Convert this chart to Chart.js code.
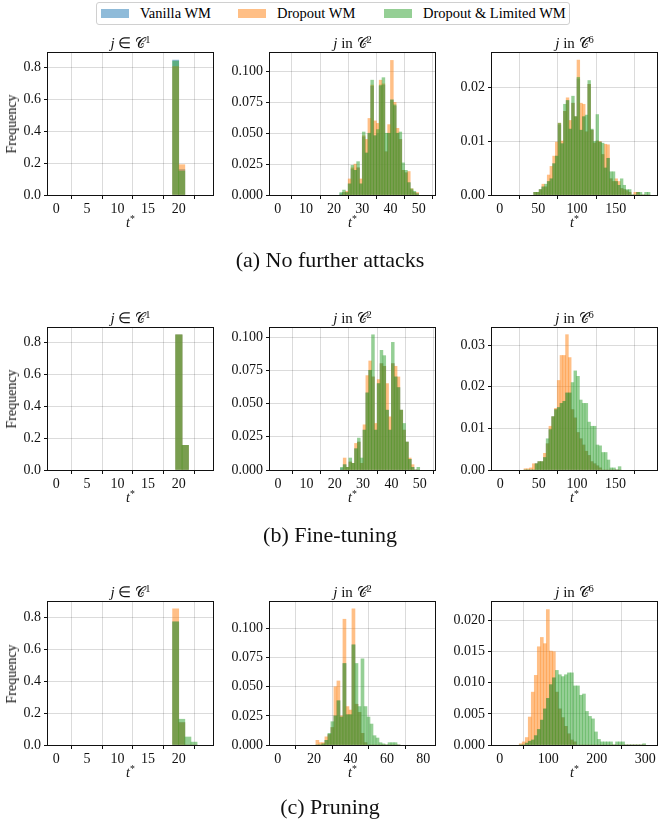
<!DOCTYPE html>
<html lang="en">
<head>
<meta charset="UTF-8">
<title>t* histograms</title>
<script src="https://cdn.jsdelivr.net/npm/chart.js"></script>
<style>
  body { margin: 0; background: #fff; color: #000; font-family: "Liberation Serif", serif; }
  #page { position: relative; width: 659px; height: 825px; overflow: hidden; }
  canvas.panel { position: absolute; }
  .txt { position: absolute; white-space: nowrap; transform: translate(-50%, -50%); line-height: 1; color: #111; font-weight: normal; }
  .title { font-size: 15px; }
  .xlabel { font-size: 14px; }
  .ylabel { font-size: 14px; transform: translate(-50%, -50%) rotate(-90deg); }
  .caption { font-size: 22px; }
  .cal { font-family: "DejaVu Serif", "DejaVu Sans", serif; font-size: 0.95em; }
  sup { font-size: 0.7em; position: relative; top: -0.5em; vertical-align: baseline; line-height: 0; }
  #legend {
    position: absolute; left: 96px; top: 2px; width: 474px; height: 23px;
    border: 1px solid #d0d0d0; border-radius: 3px; box-sizing: border-box;
    font-size: 14.5px;
  }
  #legend .item { position: absolute; top: 0; height: 21px; display: flex; align-items: center; white-space: nowrap; }
  #legend .swatch { width: 28px; height: 9px; margin-right: 11px; }
</style>
</head>
<body>
<div id="page">
  <div id="legend"></div>
</div>
<script>
  const legendLabels = ['Vanilla WM', 'Dropout WM', 'Dropout & Limited WM'];
  const rowCaptions = ['(a) No further attacks', '(b) Fine-tuning', '(c) Pruning'];
  const classIds = [1, 2, 6];

  // tick values
  const xTicksC1 = [0, 5, 10, 15, 20];
  const xTicksC2 = [0, 10, 20, 30, 40, 50];
  const xTicksC6 = [0, 50, 100, 150];
  const xTicksC2Pruned = [0, 20, 40, 60, 80];
  const xTicksC6Pruned = [0, 100, 200, 300];
  const yTicksC1 = [0, 0.2, 0.4, 0.6, 0.8];
  const yTicksC2 = [0, 0.025, 0.05, 0.075, 0.1];
  const yTicksC6a = [0, 0.01, 0.02];
  const yTicksC6b = [0, 0.01, 0.02, 0.03];
  const yTicksC6c = [0, 0.005, 0.01, 0.015, 0.02];

  // (a) no further attacks -- bins given as [first left edge, bin width]
  const aC1Bins = [19, 1];
  const aC1Vanilla = [0.845, 0.16];
  const aC1Dropout = [0.805, 0.19];
  const aC1Limited = [0.84, 0.15];

  const aC2Bins = [22, 1];
  const aC2Vanilla = [0.001, 0.002, 0.002, 0.009, 0.021, 0.02, 0.022, 0.009, 0.047, 0.034, 0.05, 0.088, 0.048, 0.05,
    0.088, 0.089, 0.035, 0.05, 0.077, 0.072, 0.05, 0.045, 0.02, 0.018, 0.01, 0.004, 0.002, 0.001];
  const aC2Dropout = [0, 0.002, 0.003, 0.013, 0.022, 0.025, 0.022, 0.013, 0.048, 0.045, 0.062, 0.089, 0.06, 0.058,
    0.093, 0.09, 0.035, 0.057, 0.109, 0.075, 0.054, 0.045, 0.02, 0.018, 0.019, 0.005, 0.002, 0.002];
  const aC2Limited = [0.002, 0.004, 0.002, 0.009, 0.024, 0.02, 0.027, 0.009, 0.051, 0.034, 0.05, 0.093, 0.048, 0.053,
    0.089, 0.095, 0.05, 0.05, 0.077, 0.073, 0.05, 0.051, 0.026, 0.02, 0.01, 0.005, 0.003, 0.001];

  const aC6Bins = [44, 3.5];
  const aC6Vanilla = [0.0005, 0.0005, 0.001, 0.0015, 0.0015, 0.0025, 0.003, 0.0058, 0.0072, 0.013, 0.0095, 0.0155,
    0.0175, 0.0122, 0.017, 0.0145, 0.0215, 0.012, 0.0145, 0.0117, 0.0205, 0.012, 0.0096, 0.01, 0.0098, 0.0075, 0.005,
    0.0068, 0.003, 0.0025, 0.0025, 0.0018, 0.0012, 0.001, 0.0008, 0.0005, 0, 0, 0.0005, 0, 0, 0, 0];
  const aC6Dropout = [0.0005, 0.0005, 0.001, 0.002, 0.0015, 0.0037, 0.0053, 0.0072, 0.0098, 0.0133, 0.01, 0.0155,
    0.018, 0.0138, 0.017, 0.0145, 0.025, 0.017, 0.0168, 0.0117, 0.0205, 0.012, 0.0096, 0.01, 0.0099, 0.0075, 0.0094,
    0.0093, 0.003, 0.0025, 0.003, 0.0025, 0.0012, 0.001, 0.0008, 0.0005, 0, 0.0005, 0.0005, 0, 0, 0, 0];
  const aC6Limited = [0.0005, 0.0005, 0.001, 0.0015, 0.002, 0.0025, 0.003, 0.0058, 0.0072, 0.0133, 0.0095, 0.0168,
    0.0175, 0.0122, 0.0183, 0.0145, 0.0218, 0.012, 0.0145, 0.0148, 0.0212, 0.0122, 0.0099, 0.0149, 0.0098, 0.0096,
    0.005, 0.0068, 0.0043, 0.0043, 0.0025, 0.0018, 0.003, 0.0018, 0.001, 0.001, 0, 0, 0.0005, 0.0005, 0, 0.0005, 0.0005];

  // (b) fine-tuning
  const bC1Bins = [19.5, 1.05];
  const bC1Vanilla = [0.85, 0.155];
  const bC1Dropout = [0.85, 0.155];
  const bC1Limited = [0.85, 0.155];

  const bC2Bins = [22, 1];
  const bC2Vanilla = [0.001, 0.004, 0.002, 0.006, 0.005, 0.016, 0.021, 0.005, 0.03, 0.058, 0.075, 0.07, 0.03, 0.065,
    0.08, 0.078, 0.045, 0.03, 0.08, 0.07, 0.062, 0.045, 0.03, 0.021, 0.008, 0.002, 0, 0];
  const bC2Dropout = [0, 0.009, 0.002, 0.006, 0.005, 0.02, 0.021, 0.005, 0.034, 0.071, 0.082, 0.07, 0.035, 0.068,
    0.08, 0.078, 0.065, 0.04, 0.08, 0.078, 0.07, 0.045, 0.03, 0.021, 0.009, 0.004, 0, 0];
  const bC2Limited = [0.002, 0.004, 0.002, 0.009, 0.005, 0.016, 0.024, 0.009, 0.03, 0.058, 0.075, 0.1017, 0.03, 0.065,
    0.09, 0.086, 0.045, 0.03, 0.096, 0.07, 0.062, 0.045, 0.035, 0.021, 0.008, 0.002, 0, 0.002];

  const bC6Bins = [31, 3.6];
  const bC6Vanilla = [0, 0, 0, 0, 0.0015, 0.002, 0.002, 0.003, 0.0063, 0.0097, 0.0128, 0.0145, 0.015, 0.016, 0.0165,
    0.0185, 0.0185, 0.0145, 0.0125, 0.009, 0.0075, 0.006, 0.0045, 0.0035, 0.002, 0.0015, 0.001, 0.0005, 0, 0, 0, 0, 0, 0, 0];
  const bC6Dropout = [0.0003, 0.0003, 0.0005, 0.0015, 0.0015, 0.002, 0.002, 0.004, 0.0063, 0.0105, 0.0128, 0.0148,
    0.0215, 0.0275, 0.0275, 0.0325, 0.027, 0.0145, 0.0125, 0.009, 0.0075, 0.006, 0.0045, 0.0035, 0.002, 0.0015, 0.001,
    0.0005, 0, 0, 0, 0, 0, 0, 0];
  const bC6Limited = [0, 0, 0, 0, 0.0015, 0.002, 0.002, 0.003, 0.0075, 0.0097, 0.0128, 0.0145, 0.015, 0.016, 0.0165,
    0.0185, 0.0185, 0.021, 0.0238, 0.0225, 0.0168, 0.016, 0.016, 0.0115, 0.0105, 0.0105, 0.006, 0.0058, 0.0042, 0.0042,
    0.0024, 0.0005, 0.0005, 0, 0.0008];

  // (c) pruning
  const cC1Bins = [19, 1];
  const cC1Vanilla = [0.77, 0.14, 0, 0];
  const cC1Dropout = [0.852, 0.14, 0, 0];
  const cC1Limited = [0.77, 0.161, 0.05, 0.018];

  const cC2Bins = [21, 1.65];
  const cC2Vanilla = [0, 0, 0.001, 0.004, 0.009, 0.015, 0.025, 0.038, 0.024, 0.07, 0.026, 0.026, 0.086, 0.035, 0.028,
    0.01, 0.002, 0, 0, 0, 0, 0, 0, 0, 0, 0, 0, 0];
  const cC2Dropout = [0.004, 0.002, 0.002, 0.007, 0.009, 0.015, 0.05, 0.055, 0.025, 0.108, 0.033, 0.03, 0.117, 0.035,
    0.028, 0.01, 0.002, 0, 0, 0, 0, 0, 0, 0, 0, 0, 0, 0];
  const cC2Limited = [0, 0, 0.001, 0.004, 0.01, 0.02, 0.025, 0.038, 0.024, 0.07, 0.026, 0.026, 0.086, 0.07, 0.033,
    0.074, 0.033, 0.024, 0.018, 0.008, 0.006, 0.002, 0.001, 0, 0.002, 0.002, 0.002, 0];

  const cC6Bins = [40.2, 6.2];
  const cC6Vanilla = [0, 0, 0.0003, 0.0006, 0.0008, 0.0015, 0.0025, 0.004, 0.0058, 0.0075, 0.0097, 0.0108, 0.0085,
    0.0058, 0.0044, 0.003, 0.0018, 0.0008, 0.0005, 0, 0, 0, 0, 0, 0, 0, 0, 0, 0, 0, 0, 0, 0, 0, 0, 0, 0, 0, 0, 0, 0, 0];
  const cC6Dropout = [0.0002, 0.0005, 0.0012, 0.0045, 0.0085, 0.0112, 0.0158, 0.0173, 0.0163, 0.0218, 0.0151, 0.015,
    0.0085, 0.0058, 0.0044, 0.003, 0.0018, 0.0008, 0.0005, 0, 0, 0, 0, 0, 0, 0, 0, 0, 0, 0, 0, 0, 0, 0, 0, 0, 0, 0, 0, 0, 0, 0];
  const cC6Limited = [0, 0, 0.0003, 0.0006, 0.0008, 0.0015, 0.0025, 0.004, 0.0058, 0.0075, 0.0097, 0.0108, 0.012,
    0.0113, 0.011, 0.0113, 0.0116, 0.0116, 0.0095, 0.0095, 0.008, 0.0082, 0.0054, 0.0046, 0.0042, 0.0021, 0.0009,
    0.0005, 0.0005, 0.0005, 0.0005, 0, 0.0005, 0.0005, 0.0005, 0, 0, 0, 0, 0, 0, 0.0002];

  const colors = ['rgba(31,119,180,0.5)', 'rgba(255,127,14,0.5)', 'rgba(44,160,44,0.5)'];

  // layout of the plot areas
  const colLeft = [48, 270, 492];
  const rowTop = [53, 328, 602];
  const rowBottom = [195, 470, 745];
  const plotW = 165;
  const yAxisW = 50, xAxisH = 24, padTop = 13, padRight = 8;
  const tickFont = { family: 'Liberation Serif', size: 14 };

  const panels = [
    { r: 0, c: 0, bins: aC1Bins, sets: [aC1Vanilla, aC1Dropout, aC1Limited], x: [-1.35, 25.6], yMax: 0.89, xt: xTicksC1, yt: yTicksC1, dec: 1 },
    { r: 0, c: 1, bins: aC2Bins, sets: [aC2Vanilla, aC2Dropout, aC2Limited], x: [-2.75, 55.8], yMax: 0.115, xt: xTicksC2, yt: yTicksC2, dec: 3 },
    { r: 0, c: 2, bins: aC6Bins, sets: [aC6Vanilla, aC6Dropout, aC6Limited], x: [-10, 203.5], yMax: 0.0263, xt: xTicksC6, yt: yTicksC6a, dec: 2 },
    { r: 1, c: 0, bins: bC1Bins, sets: [bC1Vanilla, bC1Dropout, bC1Limited], x: [-1.35, 25.6], yMax: 0.8925, xt: xTicksC1, yt: yTicksC1, dec: 1 },
    { r: 1, c: 1, bins: bC2Bins, sets: [bC2Vanilla, bC2Dropout, bC2Limited], x: [-2.85, 55.4], yMax: 0.1068, xt: xTicksC2, yt: yTicksC2, dec: 3 },
    { r: 1, c: 2, bins: bC6Bins, sets: [bC6Vanilla, bC6Dropout, bC6Limited], x: [-10.6, 203.8], yMax: 0.0341, xt: xTicksC6, yt: yTicksC6b, dec: 2 },
    { r: 2, c: 0, bins: cC1Bins, sets: [cC1Vanilla, cC1Dropout, cC1Limited], x: [-1.35, 25.6], yMax: 0.894, xt: xTicksC1, yt: yTicksC1, dec: 1 },
    { r: 2, c: 1, bins: cC2Bins, sets: [cC2Vanilla, cC2Dropout, cC2Limited], x: [-4.2, 86.4], yMax: 0.1228, xt: xTicksC2Pruned, yt: yTicksC2, dec: 3 },
    { r: 2, c: 2, bins: cC6Bins, sets: [cC6Vanilla, cC6Dropout, cC6Limited], x: [-15.9, 324], yMax: 0.023, xt: xTicksC6Pruned, yt: yTicksC6c, dec: 3 }
  ];

  const page = document.getElementById('page');

  function addText(html, cls, x, y) {
    const d = document.createElement('div');
    d.className = 'txt ' + cls;
    d.innerHTML = html;
    d.style.left = x + 'px';
    d.style.top = y + 'px';
    page.appendChild(d);
  }

  // black box round the axes, like matplotlib spines
  const frame = {
    id: 'frame',
    afterDraw(chart) {
      const { ctx, chartArea: a } = chart;
      ctx.save();
      ctx.strokeStyle = '#111';
      ctx.lineWidth = 1;
      ctx.strokeRect(a.left - 0.5, a.top - 0.5, a.right - a.left + 1, a.bottom - a.top + 1);
      ctx.restore();
    }
  };

  function drawPanel(p) {
    const canvas = document.createElement('canvas');
    canvas.className = 'panel';
    const h = rowBottom[p.r] - rowTop[p.r];
    canvas.width = yAxisW + plotW + padRight;
    canvas.height = padTop + h + xAxisH;
    canvas.style.left = (colLeft[p.c] - yAxisW) + 'px';
    canvas.style.top = (rowTop[p.r] - padTop) + 'px';
    page.appendChild(canvas);

    const [start, width] = p.bins;
    const toPoints = vals => vals.map((v, k) => ({ x: start + (k + 0.5) * width, y: v }));

    new Chart(canvas, {
      type: 'bar',
      data: {
        datasets: p.sets.map((vals, i) => ({
          label: legendLabels[i],
          data: toPoints(vals),
          backgroundColor: colors[i],
          borderWidth: 0,
          grouped: false,
          barPercentage: 1,
          categoryPercentage: 1,
          order: 3 - i
        }))
      },
      options: {
        responsive: false,
        animation: false,
        layout: { padding: { top: padTop, right: padRight, left: 0, bottom: 0 } },
        plugins: { legend: { display: false }, tooltip: { enabled: false } },
        scales: {
          x: {
            type: 'linear', min: p.x[0], max: p.x[1], offset: false,
            afterBuildTicks: ax => { ax.ticks = p.xt.map(v => ({ value: v })); },
            afterFit: ax => { ax.height = xAxisH; },
            ticks: { autoSkip: false, maxRotation: 0, padding: 2, color: '#111', font: tickFont, callback: v => String(v) },
            grid: { color: 'rgba(0,0,0,0.14)', tickColor: '#111', tickLength: 4 },
            border: { display: false }
          },
          y: {
            min: 0, max: p.yMax,
            afterBuildTicks: ax => { ax.ticks = p.yt.map(v => ({ value: v })); },
            afterFit: ax => { ax.width = yAxisW; },
            ticks: { autoSkip: false, padding: 3, color: '#111', font: tickFont, callback: v => v.toFixed(p.dec) },
            grid: { color: 'rgba(0,0,0,0.14)', tickColor: '#111', tickLength: 4 },
            border: { display: false }
          }
        }
      },
      plugins: [frame]
    });

    const cx = colLeft[p.c] + plotW / 2;
    const cls = classIds[p.c];
    const rel = p.c === 0 ? '&isin;' : 'in';
    addText('<i>j</i> ' + rel + ' <span class="cal">&#x1D49E;</span><sup>' + cls + '</sup>', 'title', cx, rowTop[p.r] - 10);
    addText('<i>t</i><sup>*</sup>', 'xlabel', cx, rowBottom[p.r] + 28);
    if (p.c === 0) addText('Frequency', 'ylabel', 12, (rowTop[p.r] + rowBottom[p.r]) / 2);
  }

  panels.forEach(drawPanel);

  const captionY = [260, 535, 807];
  rowCaptions.forEach((t, i) => addText(t, 'caption', 330, captionY[i]));

  const legend = document.getElementById('legend');
  const legendItemLeft = [4, 141, 287];
  legendLabels.forEach((label, i) => {
    const item = document.createElement('div');
    item.className = 'item';
    item.style.left = legendItemLeft[i] + 'px';
    item.innerHTML = '<span class="swatch" style="background:' + colors[i] + '"></span><span>' + label.replace('&', '&amp;') + '</span>';
    legend.appendChild(item);
  });
</script>
</body>
</html>
